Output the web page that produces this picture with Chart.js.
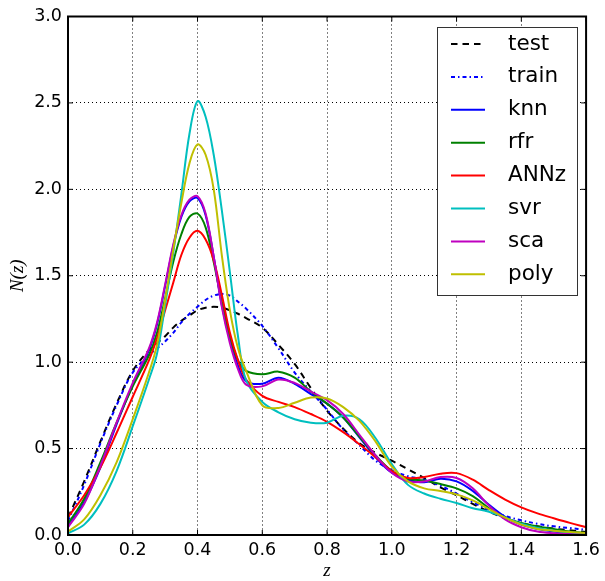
<!DOCTYPE html>
<html lang="en">
<head>
    <meta charset="UTF-8">
    <title>N(z) distributions</title>
    <style>
        body {
            margin: 0;
            background: #fff;
        }

        .chartContainer {
            position: relative;
            width: 605px;
            height: 581px;
        }
    </style>
</head>
<body>
    <div class="chartContainer">
        <canvas id="nzChart" width="605" height="581"></canvas>
    </div>
    <script src="https://cdn.jsdelivr.net/npm/chart.js"></script>
    <script>
        // redshift grid (finer around the peak)
        const zValues = [0, 0.05, 0.1, 0.15, 0.2, 0.25, 0.275, 0.3, 0.325, 0.35, 0.375, 0.4, 0.425, 0.45, 0.475, 0.5, 0.525, 0.55,
            0.6, 0.65, 0.7, 0.75, 0.8, 0.85, 0.9, 0.95, 1.0, 1.05, 1.1, 1.15, 1.2, 1.25, 1.3, 1.35, 1.4, 1.45, 1.5, 1.55, 1.6];

        const test = [0.10, 0.31, 0.54, 0.76, 0.95, 1.07, 1.11, 1.15, 1.20, 1.24, 1.27, 1.30, 1.315, 1.32, 1.315, 1.30, 1.28, 1.255,
            1.20, 1.10, 0.99, 0.85, 0.72, 0.615, 0.53, 0.475, 0.43, 0.38, 0.33, 0.275, 0.23, 0.18, 0.135, 0.097, 0.068, 0.05, 0.037, 0.027, 0.018];
        const train = [0.08, 0.29, 0.53, 0.75, 0.94, 1.04, 1.08, 1.12, 1.17, 1.23, 1.28, 1.32, 1.36, 1.385, 1.395, 1.385, 1.35, 1.31,
            1.21, 1.08, 0.94, 0.83, 0.725, 0.61, 0.52, 0.43, 0.375, 0.34, 0.32, 0.285, 0.24, 0.19, 0.145, 0.11, 0.085, 0.065, 0.05, 0.04, 0.03];
        const knn = [0.05, 0.19, 0.39, 0.64, 0.87, 1.07, 1.22, 1.44, 1.67, 1.84, 1.93, 1.95, 1.85, 1.61, 1.33, 1.13, 0.98, 0.89,
            0.875, 0.91, 0.875, 0.815, 0.76, 0.68, 0.565, 0.45, 0.36, 0.32, 0.305, 0.325, 0.31, 0.255, 0.175, 0.105, 0.06, 0.035, 0.02, 0.01, 0.005];
        const rfr = [0.065, 0.21, 0.42, 0.65, 0.86, 1.04, 1.17, 1.37, 1.58, 1.74, 1.84, 1.86, 1.78, 1.58, 1.35, 1.15, 1.01, 0.95,
            0.93, 0.945, 0.91, 0.83, 0.76, 0.68, 0.57, 0.46, 0.37, 0.325, 0.315, 0.295, 0.27, 0.225, 0.155, 0.10, 0.07, 0.05, 0.035, 0.02, 0.012];
        const annz = [0.105, 0.23, 0.39, 0.59, 0.80, 1.01, 1.14, 1.30, 1.46, 1.62, 1.72, 1.76, 1.71, 1.59, 1.39, 1.17, 1.01, 0.90,
            0.805, 0.77, 0.74, 0.70, 0.655, 0.595, 0.525, 0.45, 0.37, 0.33, 0.335, 0.355, 0.358, 0.32, 0.26, 0.205, 0.16, 0.125, 0.097, 0.07, 0.045];
        const svr = [0.01, 0.06, 0.18, 0.37, 0.63, 0.90, 1.05, 1.33, 1.63, 1.97, 2.32, 2.51, 2.42, 2.20, 1.88, 1.52, 1.15, 0.895,
            0.77, 0.71, 0.67, 0.65, 0.65, 0.69, 0.67, 0.56, 0.41, 0.29, 0.24, 0.21, 0.185, 0.155, 0.135, 0.10, 0.065, 0.04, 0.025, 0.015, 0.01];
        const sca = [0.045, 0.18, 0.40, 0.65, 0.88, 1.08, 1.23, 1.45, 1.68, 1.85, 1.94, 1.96, 1.86, 1.61, 1.32, 1.11, 0.96, 0.87,
            0.86, 0.90, 0.88, 0.83, 0.78, 0.70, 0.58, 0.46, 0.36, 0.31, 0.31, 0.335, 0.33, 0.27, 0.17, 0.09, 0.045, 0.02, 0.01, 0.005, 0.003];
        const poly = [0.02, 0.09, 0.23, 0.42, 0.67, 0.94, 1.10, 1.36, 1.65, 1.92, 2.15, 2.26, 2.20, 2.00, 1.62, 1.30, 1.08, 0.95,
            0.75, 0.735, 0.765, 0.795, 0.79, 0.74, 0.66, 0.54, 0.395, 0.31, 0.27, 0.255, 0.235, 0.20, 0.15, 0.10, 0.06, 0.035, 0.025, 0.018, 0.012];

        const xTicks = [0, 0.2, 0.4, 0.6, 0.8, 1.0, 1.2, 1.4, 1.6];
        const yTicks = [0, 0.5, 1.0, 1.5, 2.0, 2.5, 3.0];

        const series = [
            { label: "test", values: test, color: "#000000", dash: [6.5, 5] },
            { label: "train", values: train, color: "#0000ff", dash: [4, 3, 1.5, 3] },
            { label: "knn", values: knn, color: "#0000ff", dash: [] },
            { label: "rfr", values: rfr, color: "#008000", dash: [] },
            { label: "ANNz", values: annz, color: "#ff0000", dash: [] },
            { label: "svr", values: svr, color: "#00bfbf", dash: [] },
            { label: "sca", values: sca, color: "#bf00bf", dash: [] },
            { label: "poly", values: poly, color: "#bfbf00", dash: [] }
        ];

        const datasets = series.map((s, i) => ({
            label: s.label,
            data: zValues.map((z, j) => ({ x: z, y: s.values[j] })),
            borderColor: s.color,
            borderDash: s.dash,
            borderWidth: 2,
            pointRadius: 0,
            fill: false,
            tension: 0.35,
            order: series.length - 1 - i // later series drawn on top, like matplotlib
        }));

        // frame, inward ticks, legend box and axis labels
        const framePlugin = {
            id: "frame",
            afterDraw(chart) {
                const ctx = chart.ctx;
                const a = chart.chartArea;
                const xs = chart.scales.x;
                const ys = chart.scales.y;
                ctx.save();

                ctx.strokeStyle = "#000";
                ctx.lineWidth = 1;
                ctx.setLineDash([]);
                xTicks.forEach(t => {
                    const px = xs.getPixelForValue(t);
                    ctx.beginPath();
                    ctx.moveTo(px, a.bottom); ctx.lineTo(px, a.bottom - 5);
                    ctx.moveTo(px, a.top); ctx.lineTo(px, a.top + 5);
                    ctx.stroke();
                });
                yTicks.forEach(t => {
                    const py = ys.getPixelForValue(t);
                    ctx.beginPath();
                    ctx.moveTo(a.left, py); ctx.lineTo(a.left + 5, py);
                    ctx.moveTo(a.right, py); ctx.lineTo(a.right - 5, py);
                    ctx.stroke();
                });

                ctx.lineWidth = 2;
                ctx.strokeRect(a.left, a.top, a.right - a.left, a.bottom - a.top);

                // legend
                const lx = 437, ly = 27, lw = 140, lh = 268;
                ctx.fillStyle = "#fff";
                ctx.fillRect(lx, ly, lw, lh);
                ctx.lineWidth = 1;
                ctx.strokeStyle = "#333";
                ctx.strokeRect(lx + 0.5, ly + 0.5, lw, lh);
                ctx.font = "21.5px 'DejaVu Sans'";
                ctx.textBaseline = "middle";
                ctx.textAlign = "left";
                series.forEach((s, i) => {
                    const y = 44 + i * 32.9;
                    ctx.beginPath();
                    ctx.strokeStyle = s.color;
                    ctx.lineWidth = 2;
                    ctx.setLineDash(s.dash);
                    ctx.moveTo(451, y);
                    ctx.lineTo(485, y);
                    ctx.stroke();
                    ctx.setLineDash([]);
                    ctx.fillStyle = "#000";
                    ctx.fillText(s.label, 508, y);
                });

                // axis labels
                ctx.fillStyle = "#000";
                ctx.font = "italic 19px 'Liberation Serif'";
                ctx.textAlign = "center";
                ctx.fillText("z", (a.left + a.right) / 2, 571);
                ctx.translate(18, (a.top + a.bottom) / 2);
                ctx.rotate(-Math.PI / 2);
                ctx.fillText("N(z)", 0, 0);
                ctx.restore();
            }
        };

        const tickFont = { family: "'DejaVu Sans'", size: 17.5 };

        new Chart(document.getElementById("nzChart").getContext("2d"), {
            type: "line",
            data: { datasets: datasets },
            options: {
                responsive: false,
                animation: false,
                layout: { padding: { top: 15, right: 17, left: 0, bottom: 0 } },
                plugins: {
                    legend: { display: false },
                    tooltip: { enabled: false }
                },
                scales: {
                    x: {
                        type: "linear",
                        min: 0,
                        max: 1.6,
                        afterFit: s => { s.height = 46; },
                        afterBuildTicks: s => { s.ticks = xTicks.map(v => ({ value: v })); },
                        ticks: {
                            autoSkip: false,
                            maxRotation: 0,
                            padding: 5,
                            color: "#000",
                            font: tickFont,
                            callback: v => v.toFixed(1)
                        },
                        grid: { color: "#000", lineWidth: 1, drawTicks: false },
                        border: { display: false, dash: [1, 3] }
                    },
                    y: {
                        min: 0,
                        max: 3.0,
                        afterFit: s => { s.width = 68; },
                        afterBuildTicks: s => { s.ticks = yTicks.map(v => ({ value: v })); },
                        ticks: {
                            padding: 6,
                            color: "#000",
                            font: tickFont,
                            callback: v => v.toFixed(1)
                        },
                        grid: { color: "#000", lineWidth: 1, drawTicks: false },
                        border: { display: false, dash: [1, 3] }
                    }
                }
            },
            plugins: [framePlugin]
        });
    </script>
</body>
</html>
